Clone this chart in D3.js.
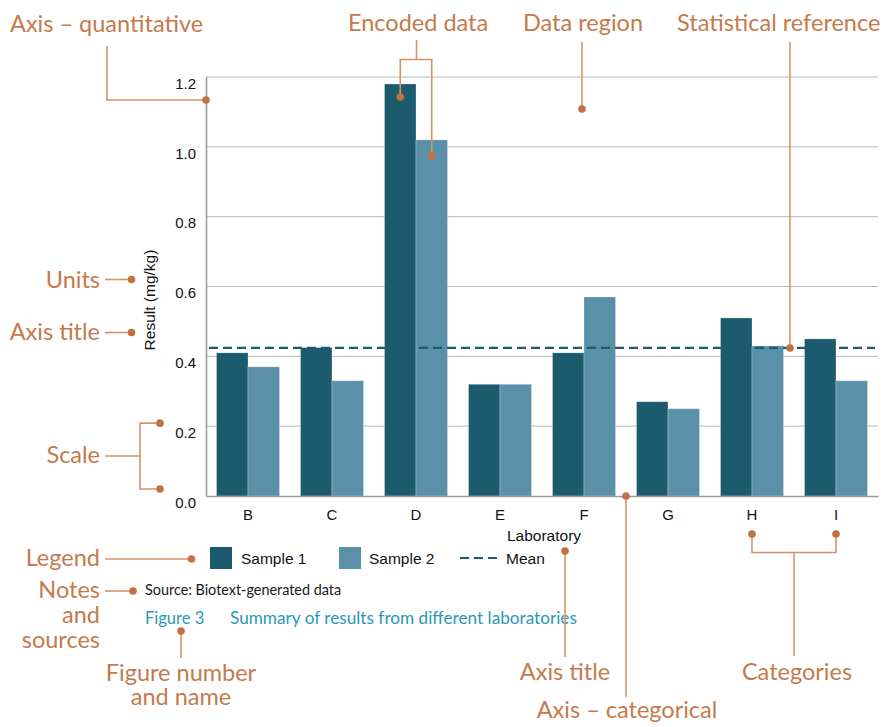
<!DOCTYPE html>
<html>
<head>
<meta charset="utf-8">
<script src="https://cdn.jsdelivr.net/npm/d3@7"></script>
<style>
  html, body { margin: 0; padding: 0; background: #fff; }
  svg { display: block; }
</style>
</head>
<body>
<svg id="chart" width="894" height="727"></svg>
<script>
// ---- Data ----
const labs = ["B", "C", "D", "E", "F", "G", "H", "I"];
const sample1 = [0.41, 0.425, 1.18, 0.32, 0.41, 0.27, 0.51, 0.45];
const sample2 = [0.37, 0.33, 1.02, 0.32, 0.57, 0.25, 0.43, 0.33];
const meanValue = 0.424;
const yTicks = [0, 0.2, 0.4, 0.6, 0.8, 1.0, 1.2];
const seriesNames = ["Sample 1", "Sample 2"];
const legendLabels = ["Sample 1", "Sample 2", "Mean"];

// ---- Styles ----
const C1 = "#1c5a6e", C2 = "#5a90a8";
const ANN_TEXT = "#c47a4c", ANN_LINE = "#d3946c", ANN_DOT = "#c4703f";
const chartFont = "'Liberation Sans', Arial, sans-serif";
const annFont = "Lato, 'Open Sans', sans-serif";

const svg = d3.select("#chart");
const pLeft = 206, pRight = 878, pTop = 77, pBottom = 496;

const x = d3.scaleBand().domain(labs).range([pLeft, pRight]).paddingInner(0.25).paddingOuter(0.125);
const xs = d3.scaleBand().domain(seriesNames).range([0, x.bandwidth()]);
const y = d3.scaleLinear().domain([0, 1.2]).range([pBottom, pTop]);

// gridlines
svg.append("g").selectAll("line").data(yTicks.filter(d => d > 0)).join("line")
  .attr("x1", pLeft).attr("x2", pRight)
  .attr("y1", d => y(d)).attr("y2", d => y(d))
  .attr("stroke", "#b8b8b8").attr("stroke-width", 1);

// bars
const rows = labs.map((l, i) => ({ lab: l, vals: [sample1[i], sample2[i]] }));
const g = svg.append("g").selectAll("g").data(rows).join("g")
  .attr("transform", d => `translate(${x(d.lab)},0)`);
g.selectAll("rect").data(d => d.vals.map((v, j) => ({ v, s: seriesNames[j] }))).join("rect")
  .attr("x", d => xs(d.s)).attr("width", xs.bandwidth())
  .attr("y", d => y(d.v)).attr("height", d => y(0) - y(d.v))
  .attr("fill", d => d.s === "Sample 1" ? C1 : C2)
  .attr("stroke", "#ffffff").attr("stroke-opacity", 0.35).attr("stroke-width", 0.8);

// mean line
svg.append("line")
  .attr("x1", pLeft + 3).attr("x2", pRight - 3)
  .attr("y1", y(meanValue)).attr("y2", y(meanValue))
  .attr("stroke", C1).attr("stroke-width", 2.2).attr("stroke-dasharray", "9,5");

// axes
const yAxis = svg.append("g").attr("transform", `translate(${pLeft},0)`)
  .call(d3.axisLeft(y).tickValues(yTicks).tickFormat(d3.format(".1f")).tickSize(0).tickPadding(10));
yAxis.select(".domain").attr("stroke", "#9a9a9a").attr("stroke-width", 1.6);
yAxis.selectAll("text").attr("font-family", chartFont).attr("font-size", 15).attr("fill", "#111").attr("dy", "0.75em");

const xAxis = svg.append("g").attr("transform", `translate(0,${pBottom})`)
  .call(d3.axisBottom(x).tickSize(0).tickPadding(13));
xAxis.select(".domain").attr("stroke", "#9a9a9a").attr("stroke-width", 1.6);
xAxis.selectAll("text").attr("font-family", chartFont).attr("font-size", 15).attr("fill", "#111");

// axis titles
svg.append("text").attr("transform", `translate(155,300) rotate(-90)`)
  .attr("text-anchor", "middle").attr("font-family", chartFont).attr("font-size", 15.5)
  .attr("fill", "#111").text("Result (mg/kg)");
svg.append("text").attr("x", 544).attr("y", 541)
  .attr("text-anchor", "middle").attr("font-family", chartFont).attr("font-size", 15.5)
  .attr("fill", "#111").text("Laboratory");

// legend
const lg = svg.append("g").attr("font-family", chartFont).attr("font-size", 15.5).attr("fill", "#111");
lg.append("rect").attr("x", 210).attr("y", 547).attr("width", 22).attr("height", 22).attr("fill", C1);
lg.append("text").attr("x", 241).attr("y", 564).text(legendLabels[0]);
lg.append("rect").attr("x", 339).attr("y", 547).attr("width", 22).attr("height", 22).attr("fill", C2);
lg.append("text").attr("x", 369).attr("y", 564).text(legendLabels[1]);
lg.append("line").attr("x1", 460).attr("x2", 497).attr("y1", 558).attr("y2", 558)
  .attr("stroke", C1).attr("stroke-width", 2.2).attr("stroke-dasharray", "9,5");
lg.append("text").attr("x", 506).attr("y", 564).text(legendLabels[2]);

// source + caption
svg.append("text").attr("x", 145).attr("y", 595).attr("font-family", annFont).attr("font-size", 14.4)
  .attr("fill", "#1a1a1a").text("Source: Biotext-generated data");
svg.append("text").attr("x", 145).attr("y", 624).attr("font-family", annFont).attr("font-size", 16.5)
  .attr("fill", "#2a98b5").text("Figure 3");
svg.append("text").attr("x", 230).attr("y", 624).attr("font-family", annFont).attr("font-size", 17.2)
  .attr("fill", "#2a98b5").text("Summary of results from different laboratories");

// ---- Annotations ----
const ann = svg.append("g");
function label(txt, px, py, anchor) {
  ann.append("text").attr("x", px).attr("y", py).attr("text-anchor", anchor || "start")
    .attr("font-family", annFont).attr("font-size", 23.5).attr("fill", ANN_TEXT).text(txt);
}
function path(pts) {
  ann.append("path").attr("d", d3.line()(pts)).attr("fill", "none")
    .attr("stroke", ANN_LINE).attr("stroke-width", 1.6);
}
function dot(px, py) {
  ann.append("circle").attr("cx", px).attr("cy", py).attr("r", 3.8).attr("fill", ANN_DOT);
}

label("Axis \u2013 quantitative", 10, 31.5);
label("Encoded data", 348, 31);
label("Data region", 523, 31);
label("Statistical reference", 677, 31);
label("Units", 100, 288, "end");
label("Axis title", 100, 340, "end");
label("Scale", 100, 463, "end");
label("Legend", 100, 566, "end");
label("Notes", 100, 598, "end");
label("and", 100, 623, "end");
label("sources", 100, 648, "end");
label("Figure number", 181, 681, "middle");
label("and name", 181, 705, "middle");
label("Axis title", 565, 680, "middle");
label("Axis \u2013 categorical", 627, 718, "middle");
label("Categories", 797, 680, "middle");

// Axis quantitative
path([[107, 46], [107, 100], [pLeft, 100]]); dot(pLeft, 100);
// Encoded data
const dX1 = x("D") + xs("Sample 1") + xs.bandwidth() / 2;
const dX2 = x("D") + xs("Sample 2") + xs.bandwidth() / 2;
path([[416.5, 40], [416.5, 59.5]]);
path([[dX1, 97], [dX1, 59.5], [dX2, 59.5], [dX2, 156]]);
dot(dX1, 97); dot(dX2, 156);
// Data region
path([[582, 42], [582, 109]]); dot(582, 109);
// Statistical reference
path([[790, 42], [790, y(meanValue)]]); dot(790, y(meanValue));
// Units / axis title
path([[105, 279.5], [131.5, 279.5]]); dot(131.5, 279.5);
path([[105, 332.5], [131.5, 332.5]]); dot(131.5, 332.5);
// Scale
path([[105, 456], [140, 456]]);
path([[160, y(0.2) - 3], [140, y(0.2) - 3], [140, y(0) - 7], [160, y(0) - 7]]);
dot(160, y(0.2) - 3); dot(160, y(0) - 7);
// Legend
path([[105, 559], [191.5, 559]]); dot(191.5, 559);
// Notes
path([[105, 591], [133, 591]]); dot(133, 591);
// Figure number
path([[181, 631], [181, 658]]); dot(181, 631);
// Axis title (lab)
path([[565, 551], [565, 657]]); dot(565, 551);
// Axis categorical
const gapX = (x("F") + x.bandwidth() + x("G")) / 2;
path([[gapX, y(0)], [gapX, 697]]); dot(gapX, y(0));
// Categories
const hX = x("H") + x.bandwidth() / 2, iX = x("I") + x.bandwidth() / 2;
const midX = (hX + iX) / 2;
path([[hX, 534], [hX, 552.5], [iX, 552.5], [iX, 534]]);
path([[midX, 552.5], [midX, 656]]);
dot(hX, 534); dot(iX, 534);
</script>
</body>
</html>
